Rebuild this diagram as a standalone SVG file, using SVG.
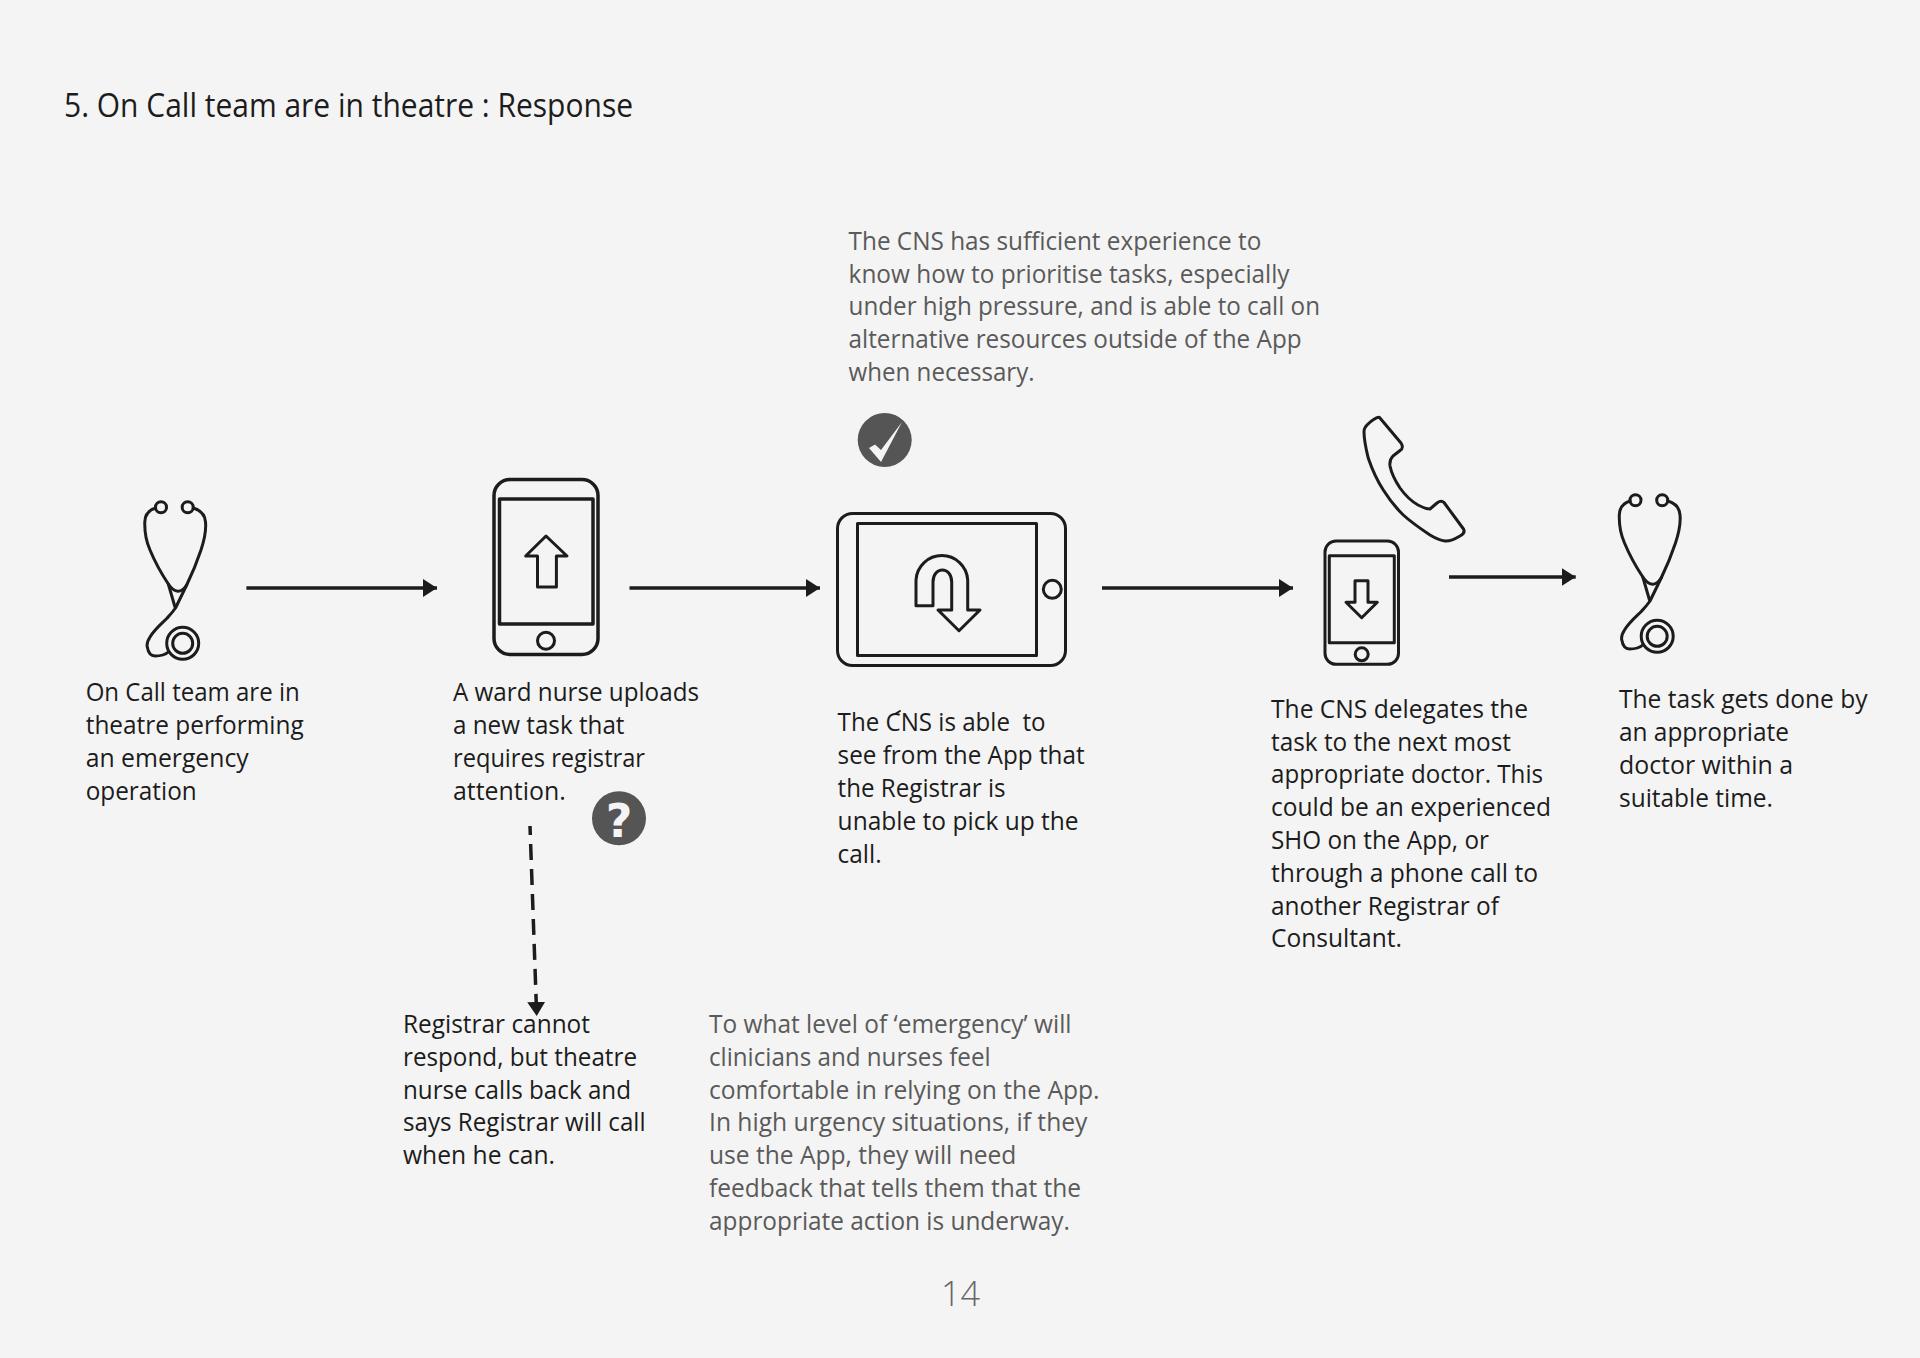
<svg xmlns="http://www.w3.org/2000/svg" width="1920" height="1358" viewBox="0 0 1920 1358">
<style>
text{font-family:"Open Sans","Noto Sans","Liberation Sans",sans-serif;font-size:25px;fill:#1c1c1c;font-weight:400}
.g text{fill:#5a5a5a}
.ic{fill:none;stroke:#1c1c1c;stroke-width:3;stroke-linejoin:round;stroke-linecap:round}
.th{fill:none;stroke:#1c1c1c;stroke-width:3.500;stroke-linejoin:round}
.ln{fill:none;stroke:#1c1c1c;stroke-width:3.500}
.bd{fill:#555}
</style>
<defs>
<g id="steth" class="ic">
<circle cx="161" cy="507.300" r="5.500"/><circle cx="187.700" cy="507.300" r="5.500"/>
<path d="M155.500 508C149 510 145 514 144.800 522C144.500 532 146 541 150 550C155 562 161 573 168.300 584L175 607"/>
<path d="M193.300 508C200 510 205 514 205.500 522C206.500 532 204 541 201 550C197 562 192 574 186.700 585L175.500 608C172 613 169 616 166.700 618.500C160 625 154 630 150 637C147.500 641 146.500 644 147.300 647C148.500 654 151 656 155 656C160 656 165 655 168.300 652"/>
<path d="M168.300 584Q178 598 186.700 585"/>
<circle cx="182.700" cy="643.300" r="16"/><circle cx="182.700" cy="643.300" r="10"/>
</g>
<marker id="ah" markerUnits="userSpaceOnUse" markerWidth="16" markerHeight="20" refX="14" refY="9" orient="auto"><path d="M0 0L14 9L0 18Z" fill="#1c1c1c"/></marker>
</defs>
<rect width="1920" height="1358" fill="#f4f4f4"/>
<text id="title" x="64" y="116.500" style="font-size:32px" textLength="569" lengthAdjust="spacingAndGlyphs">5. On Call team are in theatre : Response</text>
<g id="connectors">
<path class="ln" d="M246.400 588H437" marker-end="url(#ah)"/>
<path class="ln" d="M629.500 588H820" marker-end="url(#ah)"/>
<path class="ln" d="M1102 588H1293" marker-end="url(#ah)"/>
<path class="ln" d="M1449 577H1575.700" marker-end="url(#ah)"/>
<path class="ln" d="M530 826L536.700 1016" stroke-dasharray="16 9" stroke-dashoffset="7" marker-end="url(#ah)"/>
</g>
<g id="node-oncall">
<use href="#steth"/>
<text x="85.700" y="701" textLength="214" lengthAdjust="spacingAndGlyphs">On Call team are in</text>
<text x="85.700" y="733.800" textLength="218" lengthAdjust="spacingAndGlyphs">theatre performing</text>
<text x="85.700" y="766.600" textLength="163" lengthAdjust="spacingAndGlyphs">an emergency</text>
<text x="85.700" y="799.600" textLength="111" lengthAdjust="spacingAndGlyphs">operation</text>
</g>
<g id="node-nurse">
<rect class="th" x="494" y="479.500" width="104" height="175" rx="16"/>
<rect class="th" x="499.500" y="499" width="93.500" height="125"/>
<circle class="ic" cx="546" cy="640.700" r="8.500"/>
<path class="ic" d="M546 536L567 556H556.400V587H537.500V556H525.700Z"/>
<text x="453" y="701" textLength="246" lengthAdjust="spacingAndGlyphs">A ward nurse uploads</text>
<text x="453" y="733.800" textLength="171.500" lengthAdjust="spacingAndGlyphs">a new task that</text>
<text x="453" y="766.600" textLength="192" lengthAdjust="spacingAndGlyphs">requires registrar</text>
<text x="453" y="799.600" textLength="112.700" lengthAdjust="spacingAndGlyphs">attention.</text>
</g>
<g id="badge-question">
<circle class="bd" cx="619" cy="818.300" r="27"/>
<text x="619" y="837" text-anchor="middle" style="font-family:'DejaVu Sans',sans-serif;font-size:46px;font-weight:700;fill:#f4f4f4">?</text>
</g>
<g id="node-cns">
<rect class="ic" x="837.500" y="513.500" width="228" height="152" rx="15"/>
<rect class="ic" x="857.500" y="523.500" width="179" height="132"/>
<circle class="ic" cx="1052.300" cy="589.300" r="9"/>
<path class="ic" d="M916 605.700V580A25.900 26 0 0 1 967.700 580V610H980L959 630.700L938 610H951.700V582C951.700 566 933 566 933 582V605.700Z"/>
<path class="ic" style="stroke-width:2" d="M895 714L900 711"/>
<text x="837.600" y="731.400" textLength="208" lengthAdjust="spacingAndGlyphs" xml:space="preserve">The CNS is able  to</text>
<text x="837.600" y="764.200" textLength="247" lengthAdjust="spacingAndGlyphs">see from the App that</text>
<text x="837.600" y="797" textLength="168" lengthAdjust="spacingAndGlyphs">the Registrar is</text>
<text x="837.600" y="829.800" textLength="241" lengthAdjust="spacingAndGlyphs">unable to pick up the</text>
<text x="837.600" y="862.600" textLength="44" lengthAdjust="spacingAndGlyphs">call.</text>
</g>
<g id="badge-check">
<circle class="bd" cx="884.700" cy="440" r="27"/>
<path d="M869 448L875 444.500L881 450L902 422L881 462Z" fill="#f4f4f4"/>
</g>
<g id="note-cns" class="g">
<text x="848.600" y="249.800" textLength="412.700" lengthAdjust="spacingAndGlyphs">The CNS has sufficient experience to</text>
<text x="848.600" y="282.600" textLength="441" lengthAdjust="spacingAndGlyphs">know how to prioritise tasks, especially</text>
<text x="848.600" y="315.400" textLength="471.400" lengthAdjust="spacingAndGlyphs">under high pressure, and is able to call on</text>
<text x="848.600" y="348.200" textLength="453" lengthAdjust="spacingAndGlyphs">alternative resources outside of the App</text>
<text x="848.600" y="381" textLength="186" lengthAdjust="spacingAndGlyphs">when necessary.</text>
</g>
<g id="node-delegate">
<rect class="ic" x="1325" y="541" width="73.500" height="123.300" rx="11"/>
<rect class="ic" x="1329.300" y="555.700" width="65" height="87"/>
<circle class="ic" cx="1361.700" cy="654.300" r="6.500"/>
<path class="ic" d="M1355 580.700H1368V602.300H1377.300L1361.700 617.700L1346 602.300H1355Z"/>
<path class="ic" d="M1379.300 417.300L1401 443C1403 446 1402.500 449 1400.700 450L1393 456C1390 459 1389.500 462 1390 466C1392 476 1396 482 1400 488C1405 495 1411 501 1418 505C1423 507.500 1427 509 1430 509L1437 503C1439 501.500 1442 500.500 1444 502.500L1463.500 529C1465 532 1463 534.500 1460 536C1455 539 1450 541.500 1445 541C1440 540.500 1435 538 1430 535C1421 529 1412 523 1403.300 515C1395 507 1389 499 1383.300 490C1376 479 1372 469 1368.300 458.300C1366 449 1364 440 1364 431.700C1364 428 1365.500 426.500 1367 425C1371 421 1375 417.500 1379.300 417.300Z"/>
<text x="1271" y="717.800" textLength="257" lengthAdjust="spacingAndGlyphs">The CNS delegates the</text>
<text x="1271" y="750.600" textLength="240" lengthAdjust="spacingAndGlyphs">task to the next most</text>
<text x="1271" y="783.400" textLength="272" lengthAdjust="spacingAndGlyphs">appropriate doctor. This</text>
<text x="1271" y="816.200" textLength="280" lengthAdjust="spacingAndGlyphs">could be an experienced</text>
<text x="1271" y="849" textLength="218" lengthAdjust="spacingAndGlyphs">SHO on the App, or</text>
<text x="1271" y="881.800" textLength="267" lengthAdjust="spacingAndGlyphs">through a phone call to</text>
<text x="1271" y="914.600" textLength="228" lengthAdjust="spacingAndGlyphs">another Registrar of</text>
<text x="1271" y="947.400" textLength="131" lengthAdjust="spacingAndGlyphs">Consultant.</text>
</g>
<g id="node-done">
<use href="#steth" transform="translate(1474.500 -7)"/>
<text x="1619" y="708.200" textLength="248.600" lengthAdjust="spacingAndGlyphs">The task gets done by</text>
<text x="1619" y="741" textLength="170" lengthAdjust="spacingAndGlyphs">an appropriate</text>
<text x="1619" y="773.800" textLength="174" lengthAdjust="spacingAndGlyphs">doctor within a</text>
<text x="1619" y="806.600" textLength="154" lengthAdjust="spacingAndGlyphs">suitable time.</text>
</g>
<g id="node-registrar">
<text x="403" y="1033" textLength="187" lengthAdjust="spacingAndGlyphs">Registrar cannot</text>
<text x="403" y="1065.800" textLength="234" lengthAdjust="spacingAndGlyphs">respond, but theatre</text>
<text x="403" y="1098.600" textLength="228" lengthAdjust="spacingAndGlyphs">nurse calls back and</text>
<text x="403" y="1131.400" textLength="242.500" lengthAdjust="spacingAndGlyphs">says Registrar will call</text>
<text x="403" y="1164.200" textLength="152" lengthAdjust="spacingAndGlyphs">when he can.</text>
</g>
<g id="note-emergency" class="g">
<text x="709" y="1033" textLength="362.500" lengthAdjust="spacingAndGlyphs">To what level of ‘emergency’ will</text>
<text x="709" y="1065.800" textLength="281.600" lengthAdjust="spacingAndGlyphs">clinicians and nurses feel</text>
<text x="709" y="1098.600" textLength="390.600" lengthAdjust="spacingAndGlyphs">comfortable in relying on the App.</text>
<text x="709" y="1131.400" textLength="378.400" lengthAdjust="spacingAndGlyphs">In high urgency situations, if they</text>
<text x="709" y="1164.200" textLength="307.400" lengthAdjust="spacingAndGlyphs">use the App, they will need</text>
<text x="709" y="1197" textLength="372" lengthAdjust="spacingAndGlyphs">feedback that tells them that the</text>
<text x="709" y="1229.800" textLength="361" lengthAdjust="spacingAndGlyphs">appropriate action is underway.</text>
</g>
<text id="page" x="941" y="1306" textLength="39" lengthAdjust="spacingAndGlyphs" style="font-size:34px;fill:#666;font-weight:300">14</text>
</svg>
